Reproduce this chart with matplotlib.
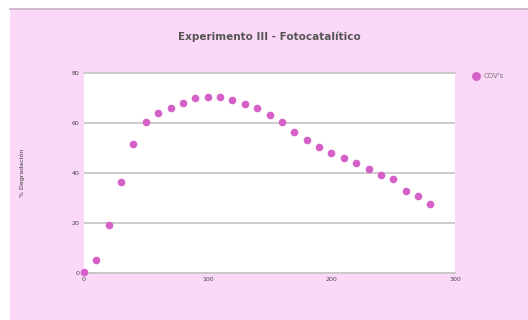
import matplotlib.pyplot as plt
from matplotlib.patches import Rectangle

# data
tiempo = [0, 10, 20, 30, 40, 50, 60, 70, 80, 90, 100, 110, 120, 130, 140,
          150, 160, 170, 180, 190, 200, 210, 220, 230, 240, 250, 260, 270, 280]
cov = [0.5, 5, 19.2, 36.5, 51.6, 60.3, 63.9, 66, 68.1, 70.1, 70.5, 70.5, 69.1,
       67.6, 66, 63, 60.3, 56.4, 53.2, 50.5, 48, 45.9, 44, 41.6, 39.2, 37.5,
       32.9, 30.8, 27.5]
x_ticks = [0, 100, 200, 300]
y_ticks = [0, 20, 40, 60, 80]

bg = '#fcd8f8'
fig = plt.figure(figsize=(5.28, 3.2), dpi=100, facecolor='white')
# pink panel with a white strip on the left and top (as in the screenshot)
fig.patches.append(Rectangle((10 / 528, 0), 1, 311 / 320, transform=fig.transFigure,
                             facecolor=bg, edgecolor='none', zorder=-2))
fig.add_artist(plt.Line2D([10 / 528, 1], [311.5 / 320, 311.5 / 320], color='#c8b0c4',
                          linewidth=1.2, transform=fig.transFigure))

ax = fig.add_axes([0.159, 0.147, 0.703, 0.625])
ax.set_facecolor('white')

ax.scatter(tiempo, cov, s=20, color='#d460c8', zorder=3, label="COV's", clip_on=False)

ax.set_xlim(0, 300)
ax.set_ylim(0, 80)
ax.set_xticks(x_ticks)
ax.set_yticks(y_ticks)
ax.tick_params(axis='both', labelsize=4.5, colors='#444444', length=0, pad=3)
ax.grid(axis='y', color='#c8c8c8', linewidth=1.3)
for s in ax.spines.values():
    s.set_visible(False)
for yv in (0, 80):
    ax.axhline(yv, color='#c8c8c8', linewidth=1.3, zorder=1, clip_on=False)

fig.text(0.51, 0.885, 'Experimento III - Fotocatalítico', ha='center', va='center',
         fontsize=7.5, fontweight='bold', color='#555555')
fig.text(0.042, 0.46, '% Degradación', rotation=90, ha='center', va='center',
         fontsize=4.5, color='#333333')

ax.legend(loc='upper left', bbox_to_anchor=(1.02, 1.03), frameon=False,
          fontsize=5, handletextpad=0.2, markerscale=1.2, labelcolor='#777777')

fig.savefig('out.png', dpi=100, facecolor='white')
